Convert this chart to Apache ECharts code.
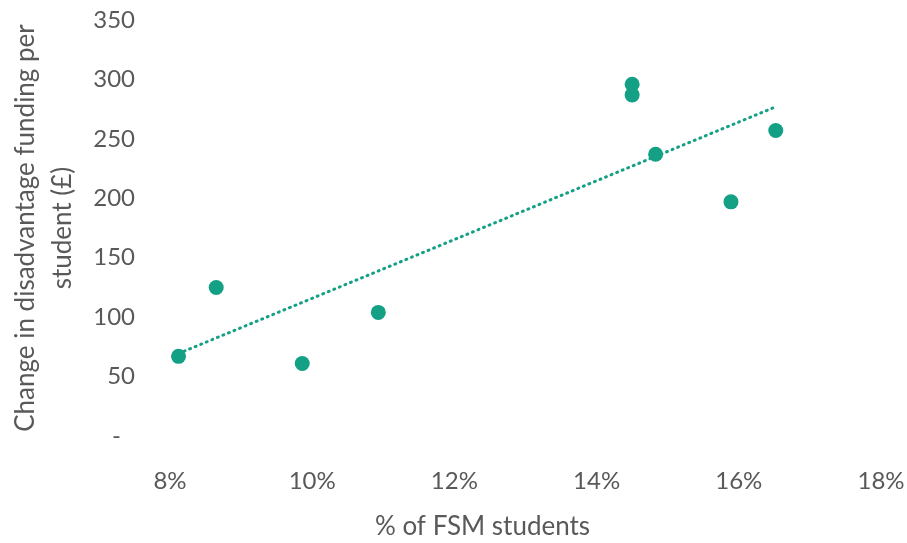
<!DOCTYPE html>
<html>
<head>
<meta charset="utf-8">
<script src="https://cdn.jsdelivr.net/npm/echarts@6/dist/echarts.min.js"></script>
<style>
html,body{margin:0;padding:0;background:#fff;}
#chart{width:907px;height:543px;}
</style>
</head>
<body>
<div id="chart"></div>
<script>
// % of FSM students
const fsmPct = [8.12, 8.65, 9.86, 10.93, 14.5, 14.5, 14.83, 15.89, 16.52];
// Change in disadvantage funding per student (£)
const fundingChange = [67, 125, 61, 104, 296, 287, 237, 197, 257];
const xTicks = [8, 10, 12, 14, 16, 18];
const yTicks = [0, 50, 100, 150, 200, 250, 300, 350];

const points = fsmPct.map((x, i) => [x, fundingChange[i]]);

// Linear trendline (least squares) over the data range
const n = fsmPct.length;
const mx = fsmPct.reduce((a, b) => a + b, 0) / n;
const my = fundingChange.reduce((a, b) => a + b, 0) / n;
let sxy = 0, sxx = 0;
for (let i = 0; i < n; i++) { sxy += (fsmPct[i] - mx) * (fundingChange[i] - my); sxx += (fsmPct[i] - mx) ** 2; }
const slope = sxy / sxx, icpt = my - slope * mx;
const xMin = Math.min(...fsmPct), xMax = Math.max(...fsmPct);
const trend = [[xMin, icpt + slope * xMin], [xMax, icpt + slope * xMax]];

const teal = '#14A085';
const textCol = '#595959';
const font = 'Lato, "Open Sans", sans-serif';

const chart = echarts.init(document.getElementById('chart'));
chart.setOption({
  animation: false,
  grid: { left: 170, right: 26, top: 20, bottom: 107, containLabel: false, outerBoundsMode: 'none' },
  xAxis: {
    type: 'value',
    min: xTicks[0], max: xTicks[xTicks.length - 1], interval: 2,
    axisLine: { show: false }, axisTick: { show: false }, splitLine: { show: false },
    axisLabel: { formatter: v => v + '%', color: textCol, fontSize: 24, fontFamily: font, margin: 33 },
    name: '% of FSM students', nameLocation: 'middle', nameGap: 78,
    nameTextStyle: { color: textCol, fontSize: 26, fontFamily: font, padding: [0, 86, 0, 0] }
  },
  yAxis: {
    type: 'value',
    min: yTicks[0], max: yTicks[yTicks.length - 1], interval: 50,
    axisLine: { show: false }, axisTick: { show: false }, splitLine: { show: false },
    axisLabel: {
      formatter: v => v === 0 ? '{dash|-}' : String(v),
      color: textCol, fontSize: 24, fontFamily: font, margin: 35,
      rich: { dash: { color: textCol, fontSize: 24, fontFamily: font, padding: [0, 14, 0, 0] } }
    },
    name: 'Change in disadvantage funding per\nstudent (£)', nameLocation: 'middle', nameGap: 89,
    nameTextStyle: { color: textCol, fontSize: 26, fontFamily: font, lineHeight: 37, align: 'center' }
  },
  series: [
    {
      type: 'line', data: trend, showSymbol: false, symbol: 'none',
      lineStyle: { color: teal, width: 3, type: [1, 5], cap: 'round' }, silent: true, z: 1
    },
    {
      type: 'scatter', data: points, symbolSize: 15,
      itemStyle: { color: teal, opacity: 1 }, z: 2
    }
  ]
});
</script>
</body>
</html>
